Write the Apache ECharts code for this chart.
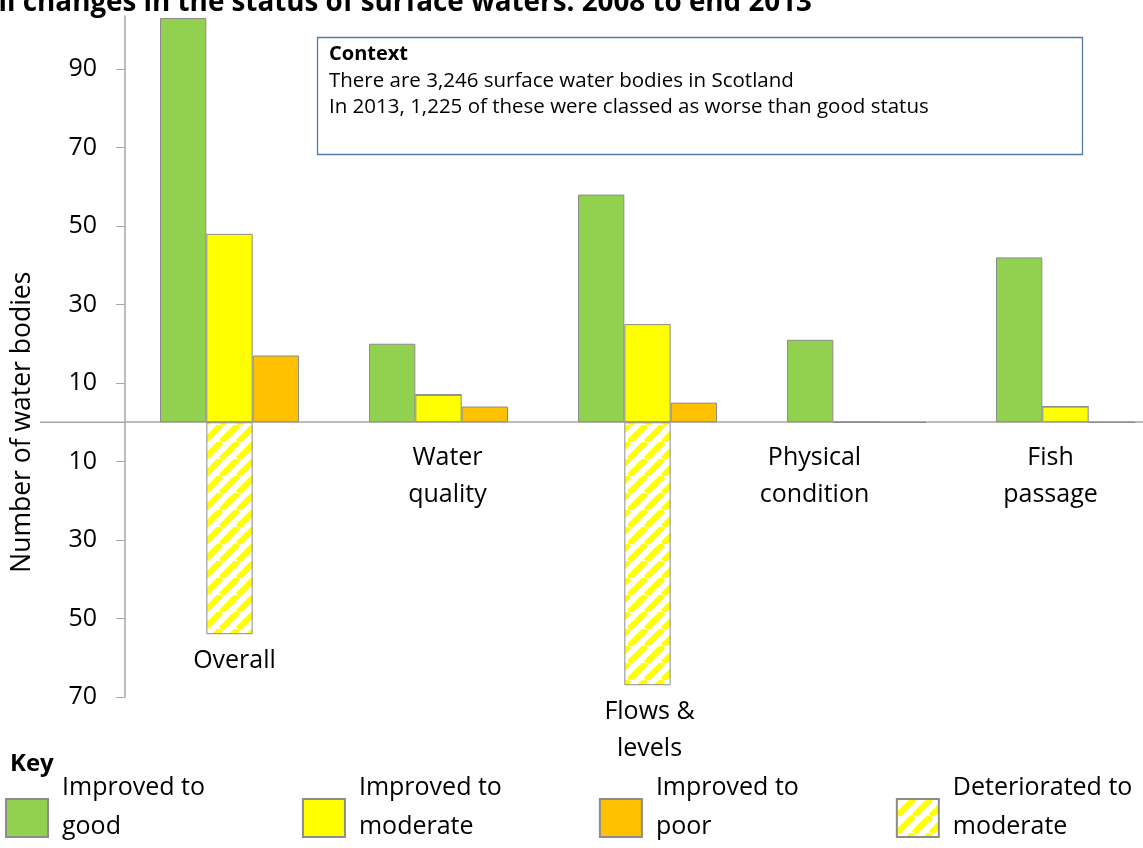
<!DOCTYPE html>
<html>
<head>
<meta charset="utf-8">
<script src="https://cdn.jsdelivr.net/npm/echarts@6/dist/echarts.min.js"></script>
<style>
  html, body { margin: 0; padding: 0; background: #fff; }
  #chart { width: 1143px; height: 848px; }
</style>
</head>
<body>
<div id="chart"></div>
<script>
// categories and values
const categories = ["Overall", "Water quality", "Flows & levels", "Physical condition", "Fish passage"];
const categoryLines = ["Overall", "Water\nquality", "Flows &\nlevels", "Physical\ncondition", "Fish\npassage"];
const improvedGood = [103, 20, 58, 21, 42];
const improvedModerate = [48, 7, 25, 0, 4];
const improvedPoor = [17, 4, 5, 0, 0];
const deterioratedModerate = [-54, 0, -67, 0, 0];
const yTicks = [-70, -50, -30, -10, 10, 30, 50, 70, 90];

// small nudges for the hand-placed category captions
const captionShift = [[5, 0], [9, 9], [2, 0], [-42, 9], [-15, 9]];

const FONT = "Open Sans";
const BORDER = "#8c8c8c";

// yellow diagonal hatching
const hatch = (() => {
  const s = 17;
  const c = document.createElement("canvas");
  c.width = s; c.height = s;
  const ctx = c.getContext("2d");
  ctx.fillStyle = "#fff";
  ctx.fillRect(0, 0, s, s);
  ctx.strokeStyle = "#ffff00";
  ctx.lineWidth = 6;
  [-s, 0, s].forEach((k) => {
    ctx.beginPath();
    ctx.moveTo(k, s);
    ctx.lineTo(k + s, 0);
    ctx.stroke();
  });
  return c;
})();

const chart = echarts.init(document.getElementById("chart"));

const barStyle = (color) => ({ color, borderColor: BORDER, borderWidth: 1 });

const option = {
  animation: false,
  textStyle: { fontFamily: FONT },
  grid: { left: 125, top: 16, width: 1045, height: 681, outerBoundsMode: "none" },
  legend: {
    data: ["Improved to good", "Improved to moderate", "Improved to poor", "Deteriorated to moderate"],
    left: 0,
    top: 770,
    width: 1400,
    icon: "rect",
    itemWidth: 42,
    itemHeight: 38,
    itemGap: 97,
    selectedMode: false,
    // an empty short last line lifts the two text lines above the swatch centre
    formatter: (name) => {
      const [a, b] = name.split(" to ");
      return "{t|" + a + " to}\n{t|" + b + "}\n{s| }";
    },
    textStyle: {
      fontFamily: FONT,
      fontSize: 25,
      color: "#000",
      padding: [0, 0, 0, 9],
      rich: {
        t: { fontFamily: FONT, fontSize: 25, lineHeight: 39, color: "#000" },
        s: { fontSize: 10, lineHeight: 22 },
      },
    },
  },
  xAxis: {
    type: "category",
    data: categories,
    axisLabel: { show: false },
    axisTick: { show: false },
    axisLine: { onZero: true, lineStyle: { color: "#a6a6a6", width: 1.5 } },
  },
  yAxis: {
    type: "value",
    min: -70,
    max: 103.5,
    splitLine: { show: false },
    axisLine: { show: true, lineStyle: { color: "#a6a6a6", width: 1.5 } },
    axisTick: { show: true, length: 9, customValues: yTicks, lineStyle: { color: "#a6a6a6" } },
    axisLabel: {
      customValues: yTicks,
      margin: 28,
      fontFamily: FONT,
      fontSize: 25,
      color: "#000",
      formatter: (v) => String(Math.abs(v)),
    },
  },
  series: [
    {
      name: "Improved to good",
      type: "bar",
      data: improvedGood,
      barGap: "0%",
      barCategoryGap: "33.5%",
      itemStyle: barStyle("#92d050"),
    },
    {
      name: "Improved to moderate",
      type: "bar",
      stack: "moderate",
      data: improvedModerate,
      itemStyle: barStyle("#ffff00"),
    },
    {
      name: "Improved to poor",
      type: "bar",
      data: improvedPoor,
      itemStyle: barStyle("#ffc000"),
    },
    {
      name: "Deteriorated to moderate",
      type: "bar",
      stack: "moderate",
      data: deterioratedModerate,
      itemStyle: { color: { image: hatch, repeat: "repeat" }, borderColor: BORDER, borderWidth: 1 },
    },
    {
      name: "captions",
      type: "scatter",
      symbolSize: 0,
      silent: true,
      z: 5,
      itemStyle: { opacity: 1 },
      data: deterioratedModerate.map((v, i) => ({
        value: Math.min(0, v),
        label: { offset: captionShift[i] },
      })),
      label: {
        show: true,
        position: "bottom",
        distance: 8,
        fontFamily: FONT,
        fontSize: 25,
        lineHeight: 37,
        color: "#000",
        align: "center",
        formatter: (p) => categoryLines[p.dataIndex],
      },
    },
  ],
  graphic: [
    {
      id: "title",
      type: "text",
      x: 812,
      y: 3,
      style: {
        text: "Overall changes in the status of surface waters: 2008 to end 2013",
        font: "bold 27.8px '" + FONT + "'",
        fill: "#000",
        align: "right",
        verticalAlign: "middle",
      },
    },
    {
      id: "contextBox",
      type: "rect",
      shape: { x: 317.5, y: 37.5, width: 765, height: 117 },
      style: { fill: "#fff", stroke: "#5a7aa8", lineWidth: 1.3 },
      z: 10,
    },
    {
      id: "contextText",
      type: "text",
      x: 329,
      y: 41,
      z: 11,
      style: {
        text: "{b|Context}\nThere are 3,246 surface water bodies in Scotland\nIn 2013, 1,225 of these were classed as worse than good status",
        font: "20.5px '" + FONT + "'",
        lineHeight: 26.5,
        fill: "#000",
        rich: { b: { fontWeight: "bold", fontSize: 20, fontFamily: FONT, lineHeight: 26.5 } },
      },
    },
    {
      id: "key",
      type: "text",
      x: 10,
      y: 752,
      style: { text: "Key", font: "bold 24px '" + FONT + "'", fill: "#000" },
    },
  ],
};

chart.setOption(option);

// y-axis title and the stub of the zero line, placed from the axis scale
const zeroY = chart.convertToPixel({ yAxisIndex: 0 }, 0);
chart.setOption({
  graphic: [
    {
      id: "yTitle",
      type: "text",
      x: 22,
      y: zeroY,
      rotation: Math.PI / 2,
      style: {
        text: "Number of water bodies",
        font: "26.5px '" + FONT + "'",
        fill: "#000",
        align: "center",
        verticalAlign: "middle",
      },
    },
    {
      id: "zeroStub",
      type: "line",
      shape: { x1: 40, y1: zeroY, x2: 125, y2: zeroY },
      style: { stroke: "#a6a6a6", lineWidth: 1.5 },
    },
  ],
});

window.addEventListener("resize", () => chart.resize());
</script>
</body>
</html>
